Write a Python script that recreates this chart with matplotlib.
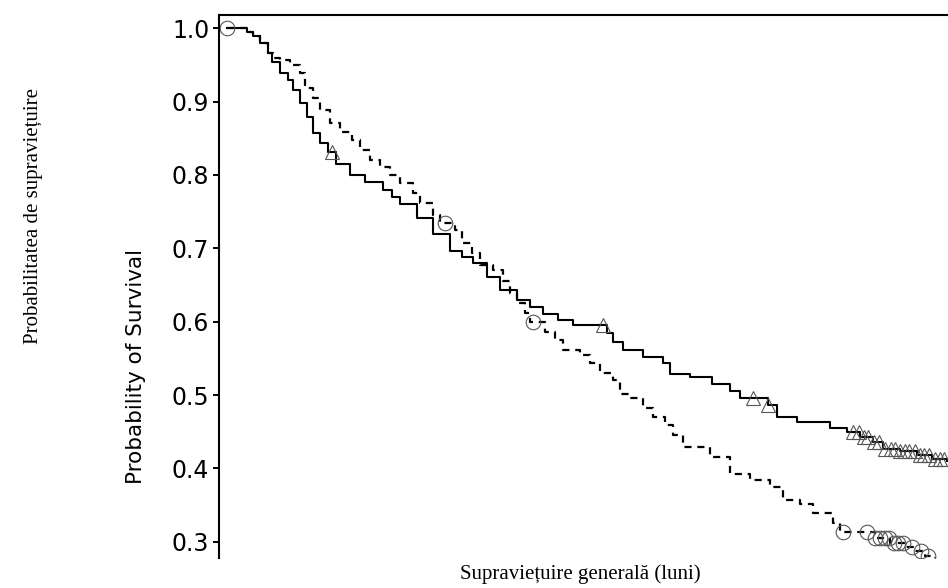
import matplotlib
matplotlib.use("Agg")
import matplotlib.pyplot as plt
import numpy as np

# survival curves (time in months, survival probability)
solid_t = [0.0, 3.9, 5.2, 6.6, 8.2, 9.0, 10.6, 12.2, 13.2, 14.6, 16.0, 17.2, 18.6, 20.2,
           21.8, 24.6, 27.6, 31.2, 33.0, 34.6, 38.0, 41.2, 44.6, 47.0, 49.2, 52.0, 54.6,
           58.0, 60.6, 63.2, 66.2, 69.2, 76.0, 77.2, 79.2, 83.2, 87.2, 88.6, 92.6, 97.0,
           100.6, 102.6, 108.2, 110.0, 114.0, 120.6, 124.0, 126.6, 129.2, 131.2, 134.6,
           138.0, 141.0, 144.0]
solid_s = [1.0, 0.995, 0.989, 0.980, 0.966, 0.954, 0.939, 0.929, 0.916, 0.898, 0.879, 0.857,
           0.843, 0.831, 0.815, 0.800, 0.790, 0.780, 0.770, 0.760, 0.742, 0.720, 0.697, 0.688,
           0.680, 0.661, 0.643, 0.629, 0.620, 0.611, 0.602, 0.595, 0.584, 0.572, 0.561, 0.552,
           0.543, 0.529, 0.524, 0.515, 0.506, 0.496, 0.486, 0.470, 0.463, 0.455, 0.450, 0.443,
           0.436, 0.427, 0.423, 0.418, 0.413, 0.410]

dashed_t = [0.0, 3.9, 5.2, 6.6, 8.2, 9.2, 10.6, 12.6, 14.6, 15.6, 17.2, 18.6, 20.6, 22.6,
            25.0, 26.6, 28.6, 30.6, 32.6, 34.6, 37.2, 38.6, 41.2, 42.6, 45.6, 47.0, 49.0,
            50.6, 53.2, 55.2, 56.6, 58.0, 59.6, 60.6, 63.6, 65.6, 67.2, 70.6, 72.6, 74.6,
            77.2, 78.6, 80.6, 83.2, 85.2, 87.6, 89.2, 91.2, 96.6, 100.6, 104.6, 108.6, 111.2,
            114.6, 117.2, 121.2, 122.6, 129.6, 132.6, 135.6, 137.6, 139.6, 141.6]
dashed_s = [1.0, 0.995, 0.989, 0.980, 0.966, 0.960, 0.957, 0.950, 0.939, 0.918, 0.905, 0.889,
            0.871, 0.859, 0.848, 0.834, 0.820, 0.811, 0.800, 0.789, 0.775, 0.762, 0.745, 0.734,
            0.725, 0.707, 0.693, 0.677, 0.670, 0.656, 0.639, 0.625, 0.612, 0.600, 0.586, 0.575,
            0.561, 0.554, 0.543, 0.530, 0.520, 0.502, 0.496, 0.482, 0.470, 0.459, 0.445, 0.429,
            0.416, 0.393, 0.384, 0.374, 0.357, 0.352, 0.339, 0.325, 0.313, 0.305, 0.298, 0.293,
            0.288, 0.281, 0.275]

# censored observations
solid_cens = [21.0, 75.2, 105.2, 108.2, 125.2, 126.4, 127.4, 128.2, 129.4, 130.4, 131.6,
              132.8, 133.6, 134.6, 135.6, 136.4, 137.6, 138.6, 139.4, 140.4, 141.6, 142.6, 143.4]
dashed_cens = [0.0, 43.6, 61.2, 123.2, 128.0, 129.6, 130.6, 131.6, 132.4, 133.4, 134.2,
               135.2, 137.0, 138.8, 140.2]

yticks = [0.3, 0.4, 0.5, 0.6, 0.7, 0.8, 0.9, 1.0]


def step_value(times, surv, at):
    idx = np.searchsorted(times, at, side="right") - 1
    return np.asarray(surv)[np.clip(idx, 0, len(surv) - 1)]


fig = plt.figure(figsize=(9.48, 5.88), dpi=100)
fig.patch.set_facecolor("white")
ax = fig.add_axes([219 / 948, 1 - 558 / 588, 1 - 219 / 948, (558 - 15) / 588])

ax.plot(solid_t, solid_s, drawstyle="steps-post", color="black", linewidth=1.5)
ax.plot(dashed_t, dashed_s, drawstyle="steps-post", color="black", linewidth=1.6,
        linestyle=(0, (3.2, 2.6)))

ax.plot(solid_cens, step_value(solid_t, solid_s, solid_cens), linestyle="none",
        marker="^", markersize=10.5, markerfacecolor="none", markeredgecolor="#555555",
        markeredgewidth=0.8)
ax.plot(dashed_cens, step_value(dashed_t, dashed_s, dashed_cens), linestyle="none",
        marker="o", markersize=10.5, markerfacecolor="none", markeredgecolor="#555555",
        markeredgewidth=0.8)

ax.set_xlim(-1.6, 144.2)
ax.set_ylim(0.2778, 1.0181)
ax.set_yticks(yticks)
ax.set_yticklabels([f"{v:.1f}" for v in yticks])
ax.set_xticks([])
ax.tick_params(axis="y", direction="out", length=4, width=1.4, labelsize=17,
               colors="black", pad=3)

for side in ["right", "bottom"]:
    ax.spines[side].set_visible(False)
for side in ["left", "top"]:
    ax.spines[side].set_linewidth(1.5)
    ax.spines[side].set_color("black")

fig.text(136 / 948, 1 - 366 / 588, "Probability of Survival", rotation=90,
         ha="center", va="center", fontsize=15.5, family="DejaVu Sans")
fig.text(34 / 948, 1 - 216 / 588, "Probabilitatea de supraviețuire", rotation=90,
         ha="center", va="center", fontsize=15, family="Liberation Serif")
fig.text(580 / 948, 1 - 574 / 588, "Supraviețuire generală (luni)",
         ha="center", va="center", fontsize=15, family="Liberation Serif")

fig.savefig("out.png", dpi=100, facecolor="white")
